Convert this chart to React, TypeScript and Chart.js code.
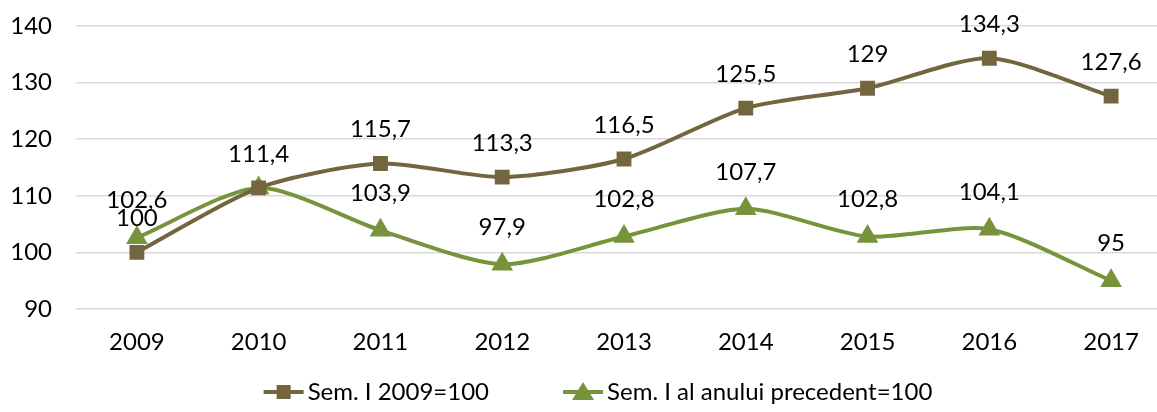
import React, { useEffect, useRef } from "react";
import { Chart, registerables } from "chart.js";

Chart.register(...registerables);

const years = ["2009", "2010", "2011", "2012", "2013", "2014", "2015", "2016", "2017"];
const semI2009 = [100, 111.4, 115.7, 113.3, 116.5, 125.5, 129, 134.3, 127.6];
const semPrev = [102.6, 111.4, 103.9, 97.9, 102.8, 107.7, 102.8, 104.1, 95];
const seriesNames = ["Sem. I 2009=100", "Sem. I al anului precedent=100"];
const yMin = 90;
const yMax = 140;
const yStep = 10;

const BROWN = "#73663f";
const GREEN = "#77933c";
const FONT = "Lato";
const FS = 24;

const fmt = (v: number) => String(v).replace(".", ",");

const labelPlugin = {
  id: "valueLabels",
  afterDatasetsDraw(chart: any) {
    const ctx = chart.ctx;
    ctx.save();
    ctx.font = `${FS}px ${FONT}`;
    ctx.fillStyle = "#000";
    ctx.textAlign = "center";
    ctx.textBaseline = "middle";
    const drawn: string[] = [];
    chart.data.datasets.forEach((ds: any, i: number) => {
      const meta = chart.getDatasetMeta(i);
      const off = ds.pointStyle === "rect" ? 34 : 37;
      meta.data.forEach((pt: any, j: number) => {
        const key = `${j}:${ds.data[j]}`;
        if (drawn.includes(key)) return;
        drawn.push(key);
        ctx.fillText(fmt(ds.data[j]), pt.x, pt.y - off);
      });
    });
    ctx.restore();
  },
};

const legendPlugin = {
  id: "customLegend",
  afterDraw(chart: any) {
    const ctx = chart.ctx;
    ctx.save();
    ctx.font = `${FS}px ${FONT}`;
    const lineLen = 40;
    const gapText = 4;
    const gapItems = 74;
    const items = chart.data.datasets.map((ds: any) => ({
      ds,
      w: lineLen + gapText + ctx.measureText(ds.label).width,
    }));
    const total = items.reduce((a: number, it: any) => a + it.w, 0) + gapItems * (items.length - 1);
    let x = 598 - total / 2;
    const y = 392;
    items.forEach((it: any) => {
      const ds = it.ds;
      ctx.strokeStyle = ds.borderColor;
      ctx.lineWidth = 4;
      ctx.beginPath();
      ctx.moveTo(x, y);
      ctx.lineTo(x + lineLen, y);
      ctx.stroke();
      ctx.fillStyle = ds.borderColor;
      const cx = x + lineLen / 2;
      if (ds.pointStyle === "rect") {
        ctx.fillRect(cx - 7, y - 7, 14, 14);
      } else {
        ctx.beginPath();
        ctx.moveTo(cx, y - 10);
        ctx.lineTo(cx + 11, y + 8);
        ctx.lineTo(cx - 11, y + 8);
        ctx.closePath();
        ctx.fill();
      }
      ctx.fillStyle = "#000";
      ctx.textAlign = "left";
      ctx.textBaseline = "middle";
      ctx.fillText(ds.label, x + lineLen + gapText, y);
      x += it.w + gapItems;
    });
    ctx.restore();
  },
};

export default function App() {
  const ref = useRef<HTMLCanvasElement>(null);
  useEffect(() => {
    document.body.style.margin = "0";
    document.body.style.overflow = "hidden";
    const chart = new Chart(ref.current!, {
      type: "line",
      data: {
        labels: years,
        datasets: [
          {
            label: seriesNames[0],
            data: semI2009,
            borderColor: BROWN,
            backgroundColor: BROWN,
            borderWidth: 4,
            pointStyle: "rect",
            pointRadius: 10.5,
            pointBorderWidth: 0,
            tension: 0.25,
          },
          {
            label: seriesNames[1],
            data: semPrev,
            borderColor: GREEN,
            backgroundColor: GREEN,
            borderWidth: 4,
            pointStyle: "triangle",
            pointRadius: 12.5,
            pointBorderWidth: 0,
            tension: 0.25,
          },
        ],
      },
      options: {
        responsive: false,
        maintainAspectRatio: false,
        animation: false,
        layout: { autoPadding: false, padding: { top: 26, left: 0, right: 0, bottom: 0 } },
        plugins: { legend: { display: false }, tooltip: { enabled: false } },
        scales: {
          x: {
            offset: true,
            grid: { display: false, drawTicks: false, offset: true },
            border: { display: false },
            ticks: { color: "#000", font: { family: FONT, size: FS }, padding: 19, maxRotation: 0 },
            afterFit: (s: any) => {
              s.height = 103;
            },
          },
          y: {
            min: yMin,
            max: yMax,
            grid: { color: "#d9d9d9", lineWidth: 1.5, drawTicks: false },
            border: { display: false },
            ticks: { stepSize: yStep, color: "#000", font: { family: FONT, size: FS }, padding: 24 },
            afterFit: (s: any) => {
              s.width = 76;
              s.paddingTop = 0;
              s.paddingBottom = 0;
            },
          },
        },
      },
      plugins: [labelPlugin, legendPlugin],
    });
    return () => chart.destroy();
  }, []);
  return (
    <div style={{ position: "relative", width: 1157, height: 412, overflow: "hidden" }}>
      <div style={{ width: 1172, height: 412 }}>
        <canvas ref={ref} width={1172} height={412} style={{ display: "block", width: 1172, height: 412 }} />
      </div>
    </div>
  );
}
